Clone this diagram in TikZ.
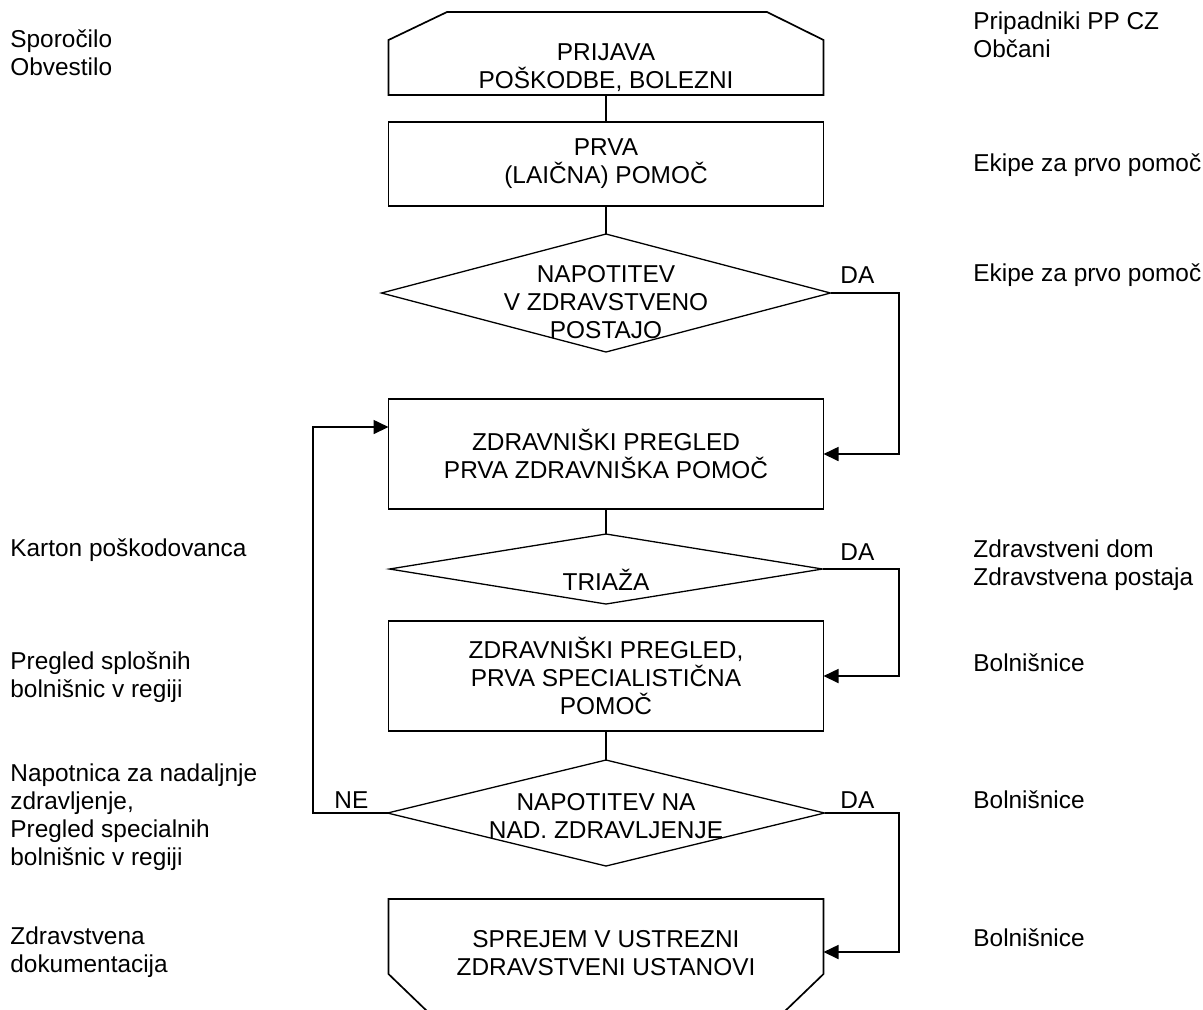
\documentclass[tikz,border=0pt]{standalone}
\usepackage{fontspec}
\setmainfont{Liberation Sans}
\usetikzlibrary{shapes.geometric,arrows.meta}
\begin{document}
\begin{tikzpicture}[x=0.5pt,y=-0.5pt,
  font=\fontsize{12.2pt}{14pt}\selectfont,
  box/.style={draw, line width=0.85pt, rectangle, minimum width=217.5pt, inner sep=0pt, outer sep=0pt, align=center},
  frame/.style={rectangle, minimum width=217.5pt, inner sep=0pt, outer sep=0pt},
  dia/.style={draw, diamond, line width=0.65pt, inner sep=0pt, outer sep=0pt},
  txt/.style={align=center, inner sep=0pt},
  lbl/.style={align=left, anchor=west, inner sep=0pt},
  conn/.style={line width=0.85pt},
  arr/.style={conn, -{Triangle[length=7.5pt,width=7pt]}},
  outline/.style={line width=0.85pt}
]
\useasboundingbox (0,0) rectangle (1203,1009);

% flow shapes
\node[frame, minimum height=41.5pt] (n1) at (606,53.5) {};
\draw[outline] (388.5,95) -- (388.5,40) -- (447,12) -- (767,12) -- (823.5,40) -- (823.5,95) -- cycle;
\node[txt] (t1) at (606,68) {PRIJAVA\\POŠKODBE, BOLEZNI};

\node[box, minimum height=42pt] (b2) at (606,164) {PRVA\\(LAIČNA) POMOČ};

\node[dia, minimum width=224.5pt, minimum height=59pt] (d1) at (606,293) {};
\node[txt] (t3) at (606,302) {NAPOTITEV\\V ZDRAVSTVENO\\POSTAJO};

\node[box, minimum height=55pt] (b3) at (606,454) {ZDRAVNIŠKI PREGLED\\PRVA ZDRAVNIŠKA POMOČ};

\node[dia, minimum width=216.5pt, minimum height=35pt] (d2) at (606,569) {};
\node[txt] (t5) at (606,580) {TRIAŽA};

\node[box, minimum height=55pt] (b4) at (606,676) {ZDRAVNIŠKI PREGLED,\\PRVA SPECIALISTIČNA\\POMOČ};

\node[dia, minimum width=218.5pt, minimum height=53pt] (d3) at (606,813) {};
\node[txt] (t7) at (606,816) {NAPOTITEV NA\\NAD. ZDRAVLJENJE};

\node[frame, minimum height=37pt] (b5) at (606,936) {};
\draw[outline] (429,1013) -- (388.5,974) -- (388.5,899) -- (823.5,899) -- (823.5,974) -- (783,1013);
\node[txt] (t8) at (606,953) {SPREJEM V USTREZNI\\ZDRAVSTVENI USTANOVI};

% connectors
\coordinate (rx) at (899,0);
\coordinate (lx) at (313,0);
\coordinate (b3in) at (388.5,427);
\coordinate (b5in) at (823.5,952);
\draw[conn] (n1.south) -- (b2.north);
\draw[conn] (b2.south) -- (d1.north);
\draw[conn] (b3.south) -- (d2.north);
\draw[conn] (b4.south) -- (d3.north);
\draw[arr] (d1.east) -| (rx |- b3.east) -- (b3.east);
\draw[arr] (d2.east) -| (rx |- b4.east) -- (b4.east);
\draw[arr] (d3.east) -| (rx |- b5in) -- (b5in);
\draw[arr] (d3.west) -| (lx |- b3in) -- (b3in);

\node[lbl] (da1) at (840,275) {DA};
\node[lbl] (da2) at (840,552) {DA};
\node[lbl] (da3) at (840,800) {DA};
\node[lbl] (ne) at (334,800) {NE};

% left labels
\node[lbl] (l1) at (10,53) {Sporočilo\\Obvestilo};
\node[lbl] (l2) at (10,550) {Karton poškodovanca};
\node[lbl] (l3) at (10,677) {Pregled splošnih\\bolnišnic v regiji};
\node[lbl] (l4) at (10,817) {Napotnica za nadaljnje\\zdravljenje,\\Pregled specialnih\\bolnišnic v regiji};
\node[lbl] (l5) at (10,952) {Zdravstvena\\dokumentacija};

% right labels
\node[lbl] (r1) at (973,35) {Pripadniki PP CZ\\Občani};
\node[lbl] (r2) at (973,165) {Ekipe za prvo pomoč};
\node[lbl] (r3) at (973,275) {Ekipe za prvo pomoč};
\node[lbl] (r4) at (973,565) {Zdravstveni dom\\Zdravstvena postaja};
\node[lbl] (r5) at (973,663) {Bolnišnice};
\node[lbl] (r6) at (973,800) {Bolnišnice};
\node[lbl] (r7) at (973,938) {Bolnišnice};
\end{tikzpicture}
\end{document}
